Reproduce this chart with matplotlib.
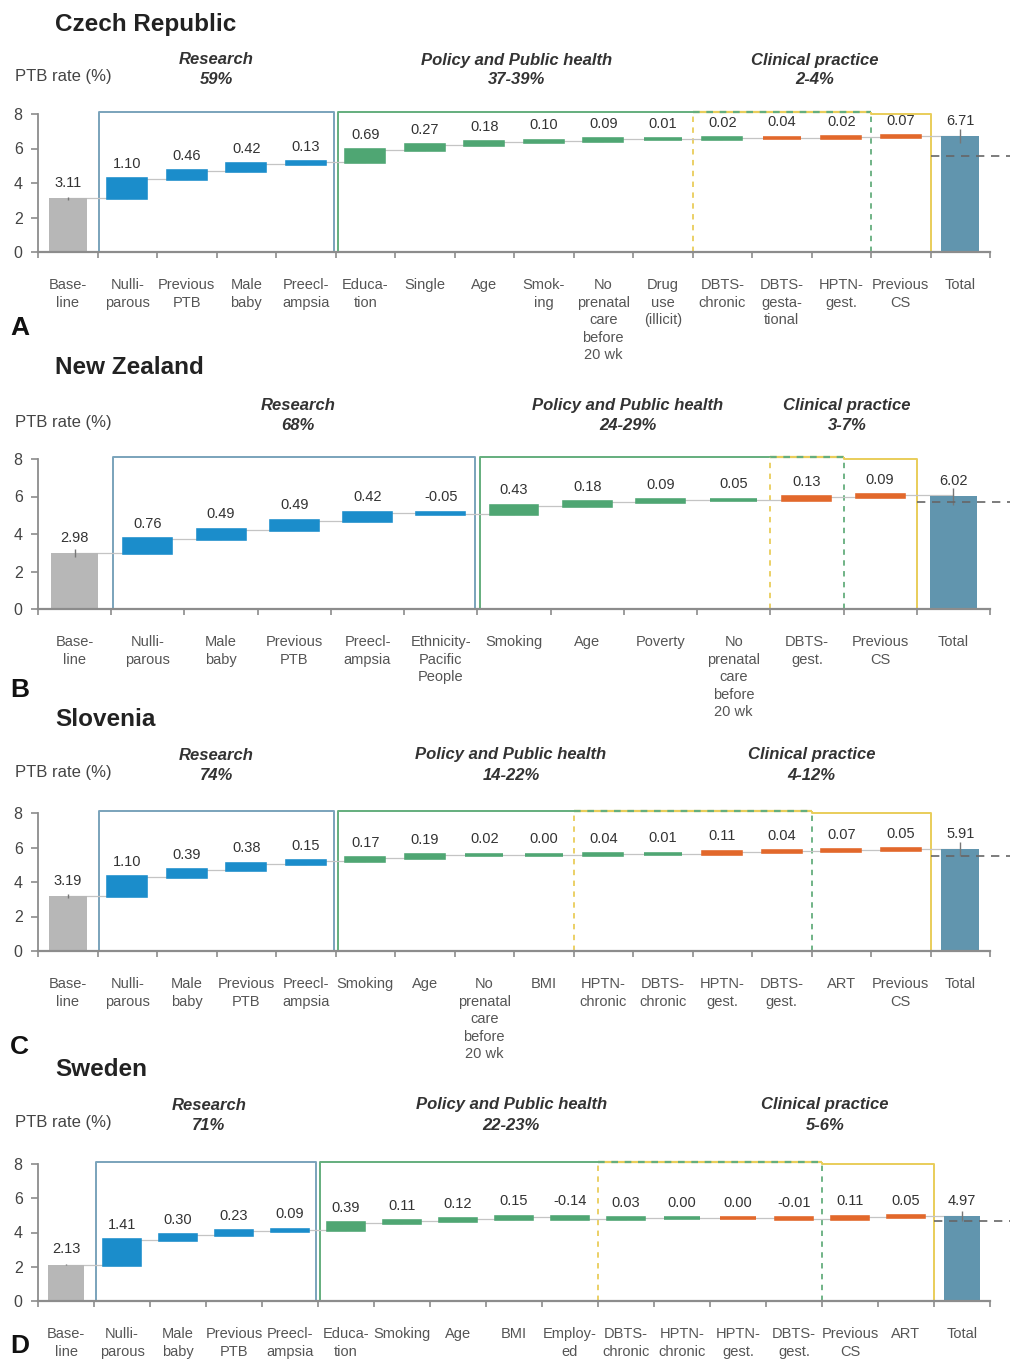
"""Waterfall charts: contribution of risk factors to the PTB rate, by country."""

import matplotlib.pyplot as plt
from matplotlib import transforms

plt.rcParams["font.family"] = ["Liberation Sans", "DejaVu Sans"]

W, H = 1014, 1360

BLUE = "#1b8dcb"
GREEN = "#4fa673"
ORANGE = "#e2682b"
BASE_GREY = "#b7b7b7"
TOTAL_BLUE = "#6195ae"
BOX_BLUE = "#7aa3bb"
BOX_GREEN = "#64ae7d"
BOX_YELLOW = "#e9cd5a"
AXIS_GREY = "#8c8c8c"
TEXT = "#333333"

GROUP_COLORS = {"b": BASE_GREY, "r": BLUE, "p": GREEN, "c": ORANGE, "t": TOTAL_BLUE}

# ---- Czech Republic ----
cz_labels = ["Base-\nline", "Nulli-\nparous", "Previous\nPTB", "Male\nbaby", "Preecl-\nampsia",
             "Educa-\ntion", "Single", "Age", "Smok-\ning", "No\nprenatal\ncare\nbefore\n20 wk",
             "Drug\nuse\n(illicit)", "DBTS-\nchronic", "DBTS-\ngesta-\ntional", "HPTN-\ngest.",
             "Previous\nCS", "Total"]
cz_values = [3.11, 1.10, 0.46, 0.42, 0.13, 0.69, 0.27, 0.18, 0.10, 0.09, 0.01, 0.02, 0.04,
             0.02, 0.07, 6.71]
cz_groups = "brrrrpppppppccct"
cz_bounds = (0.5, 4.5, 10.5, 13.5, 14.5)
cz_headers = [("Research", "59%"), ("Policy and Public health", "37-39%"),
              ("Clinical practice", "2-4%")]
cz_header_x = [2.5, 7.55, 12.55]
cz_ref = 5.57
cz_err = (0.1, 0.4)

# ---- New Zealand ----
nz_labels = ["Base-\nline", "Nulli-\nparous", "Male\nbaby", "Previous\nPTB", "Preecl-\nampsia",
             "Ethnicity-\nPacific\nPeople", "Smoking", "Age", "Poverty",
             "No\nprenatal\ncare\nbefore\n20 wk", "DBTS-\ngest.", "Previous\nCS", "Total"]
nz_values = [2.98, 0.76, 0.49, 0.49, 0.42, -0.05, 0.43, 0.18, 0.09, 0.05, 0.13, 0.09, 6.02]
nz_groups = "brrrrrppppcct"
nz_bounds = (0.5, 5.5, 9.5, 10.5, 11.5)
nz_headers = [("Research", "68%"), ("Policy and Public health", "24-29%"),
              ("Clinical practice", "3-7%")]
nz_header_x = [3.05, 7.55, 10.55]
nz_ref = 5.7
nz_err = (0.2, 0.45)

# ---- Slovenia ----
si_labels = ["Base-\nline", "Nulli-\nparous", "Male\nbaby", "Previous\nPTB", "Preecl-\nampsia",
             "Smoking", "Age", "No\nprenatal\ncare\nbefore\n20 wk", "BMI", "HPTN-\nchronic",
             "DBTS-\nchronic", "HPTN-\ngest.", "DBTS-\ngest.", "ART", "Previous\nCS", "Total"]
si_values = [3.19, 1.10, 0.39, 0.38, 0.15, 0.17, 0.19, 0.02, 0.00, 0.04, 0.01, 0.11, 0.04,
             0.07, 0.05, 5.91]
si_groups = "brrrrppppppcccct"
si_bounds = (0.5, 4.5, 8.5, 12.5, 14.5)
si_headers = [("Research", "74%"), ("Policy and Public health", "14-22%"),
              ("Clinical practice", "4-12%")]
si_header_x = [2.5, 7.45, 12.5]
si_ref = 5.5
si_err = (0.1, 0.4)

# ---- Sweden ----
se_labels = ["Base-\nline", "Nulli-\nparous", "Male\nbaby", "Previous\nPTB", "Preecl-\nampsia",
             "Educa-\ntion", "Smoking", "Age", "BMI", "Employ-\ned", "DBTS-\nchronic",
             "HPTN-\nchronic", "HPTN-\ngest.", "DBTS-\ngest.", "Previous\nCS", "ART", "Total"]
se_values = [2.13, 1.41, 0.30, 0.23, 0.09, 0.39, 0.11, 0.12, 0.15, -0.14, 0.03, 0.00, 0.00,
             -0.01, 0.11, 0.05, 4.97]
se_groups = "brrrrpppppppcccct"
se_bounds = (0.5, 4.5, 9.5, 13.5, 15.5)
se_headers = [("Research", "71%"), ("Policy and Public health", "22-23%"),
              ("Clinical practice", "5-6%")]
se_header_x = [2.55, 7.95, 13.55]
se_ref = 4.65
se_err = (0.05, 0.3)

# panel placement in pixels: title y, header y, y of 0, y of 8, letter y
PANELS = [
    ("Czech Republic", "A", cz_labels, cz_values, cz_groups, cz_bounds, cz_headers, cz_header_x,
     cz_ref, cz_err, dict(title=24, header=60, zero=252, eight=114, letter=328)),
    ("New Zealand", "B", nz_labels, nz_values, nz_groups, nz_bounds, nz_headers, nz_header_x,
     nz_ref, nz_err, dict(title=368, header=405, zero=609, eight=459, letter=690)),
    ("Slovenia", "C", si_labels, si_values, si_groups, si_bounds, si_headers, si_header_x,
     si_ref, si_err, dict(title=720, header=755, zero=951, eight=813, letter=1047)),
    ("Sweden", "D", se_labels, se_values, se_groups, se_bounds, se_headers, se_header_x,
     se_ref, se_err, dict(title=1070, header=1105, zero=1301, eight=1164, letter=1346)),
]

AX_LEFT, AX_RIGHT = 38, 990
YMAX = 8.3


def fy(py):
    return 1 - py / H


def draw_boxes(ax, bounds):
    r0, r1, s1, o1, c1 = bounds
    tb, ty = 8.1, 8.0
    kw = dict(clip_on=False, zorder=1, solid_capstyle="butt")
    ax.plot([r0 + 0.03, r0 + 0.03, r1 - 0.03, r1 - 0.03], [0, tb, tb, 0], color=BOX_BLUE, lw=1.4, **kw)
    ax.plot([r1 + 0.04, r1 + 0.04, s1], [0, tb, tb], color=BOX_GREEN, lw=1.4, **kw)
    # overlap of policy and clinical practice
    ax.plot([s1, o1], [tb, tb], color=BOX_YELLOW, lw=1.6, **kw)
    ax.plot([s1, o1], [tb, tb], color=BOX_GREEN, lw=1.6, ls=(0, (3, 3)), **kw)
    ax.plot([s1, s1], [0, tb], color=BOX_YELLOW, lw=1.3, ls=(0, (3, 3)), **kw)
    ax.plot([o1, o1], [0, tb], color=BOX_GREEN, lw=1.3, ls=(0, (3, 3)), **kw)
    ax.plot([o1, o1, c1, c1], [tb, ty, ty, 0], color=BOX_YELLOW, lw=1.4, **kw)


def draw_panel(fig, title, letter, labels, values, groups, bounds, headers, header_x, ref, err, px):
    n = len(values)
    zero, eight = px["zero"], px["eight"]
    unit = (zero - eight) / 8.0
    top = zero - YMAX * unit
    ax = fig.add_axes([AX_LEFT / W, fy(zero), (AX_RIGHT - AX_LEFT) / W, (zero - top) / H])
    ax.set_xlim(-0.5, n - 0.5)
    ax.set_ylim(0, YMAX)

    draw_boxes(ax, bounds)

    cum = 0.0
    levels = []
    for i, (v, g) in enumerate(zip(values, groups)):
        color = GROUP_COLORS[g]
        if g in "bt":
            ax.bar(i, v, width=0.64, color=color, zorder=3)
            ax.errorbar(i, v, yerr=err[0] if g == "b" else err[1], color="#777777",
                        lw=1.0, capsize=0, zorder=4)
            label_top = v
            cum = v if g == "b" else cum
        else:
            start = cum
            ax.bar(i, v, bottom=start, width=0.64, color=color, edgecolor=color,
                   linewidth=2.6, zorder=3)
            cum = start + v
            label_top = max(start, cum)
        levels.append(cum)
        ax.annotate(f"{v:.2f}", (i, label_top), xytext=(0, 6), textcoords="offset points",
                    ha="center", va="bottom", fontsize=10.5, color=TEXT, zorder=5)

    # thin connectors between consecutive bars
    for i in range(n - 1):
        ax.plot([i, i + 1], [levels[i], levels[i]], color="#c4c4c4", lw=0.9, zorder=2)

    # reference line to the right of the total bar
    x_end = -0.5 + (1010 - AX_LEFT) / (AX_RIGHT - AX_LEFT) * n
    ax.plot([bounds[4], x_end], [ref, ref], color="#666666", lw=1.2, ls=(0, (5, 4)),
            clip_on=False, zorder=5)

    for side in ("top", "right"):
        ax.spines[side].set_visible(False)
    ax.spines["left"].set_bounds(0, 8)
    ax.spines["left"].set_color(AXIS_GREY)
    ax.spines["left"].set_linewidth(1.3)
    ax.spines["bottom"].set_color(AXIS_GREY)
    ax.spines["bottom"].set_linewidth(1.6)
    ax.spines["bottom"].set_zorder(6)

    ax.set_yticks([0, 2, 4, 6, 8])
    ax.tick_params(axis="y", direction="out", length=5, width=1.2, color=AXIS_GREY,
                   labelsize=11.5, labelcolor="#444444", pad=6)
    ax.set_xticks(range(n))
    ax.set_xticklabels(labels, fontsize=10.5, color="#555555", linespacing=1.32)
    ax.tick_params(axis="x", length=0, pad=19)
    ax.set_xticks([i - 0.5 for i in range(n + 1)], minor=True)
    ax.tick_params(axis="x", which="minor", length=4, width=1.2, color=AXIS_GREY, direction="out")

    # texts above the plot
    fig.text(55 / W, fy(px["title"]), title, fontsize=17.5, fontweight="bold", color="#222222",
             va="center", ha="left")
    fig.text(15 / W, fy(px["header"] + 17), "PTB rate (%)", fontsize=12, color="#444444",
             va="center", ha="left")
    trans = transforms.blended_transform_factory(ax.transData, fig.transFigure)
    for (name, share), hx in zip(headers, header_x):
        ax.text(hx, fy(px["header"]), name, transform=trans, ha="center", va="center",
                fontsize=12, fontweight="bold", fontstyle="italic", color="#333333")
        ax.text(hx, fy(px["header"] + 20), share, transform=trans, ha="center", va="center",
                fontsize=12, fontweight="bold", fontstyle="italic", color="#333333")
    fig.text(10 / W, fy(px["letter"]), letter, fontsize=19, fontweight="bold", color="#111111",
             va="center", ha="left")


def main():
    fig = plt.figure(figsize=(W / 100, H / 100), dpi=100)
    for panel in PANELS:
        draw_panel(fig, *panel)
    fig.savefig("out.png", dpi=100)
    plt.close(fig)


if __name__ == "__main__":
    main()
